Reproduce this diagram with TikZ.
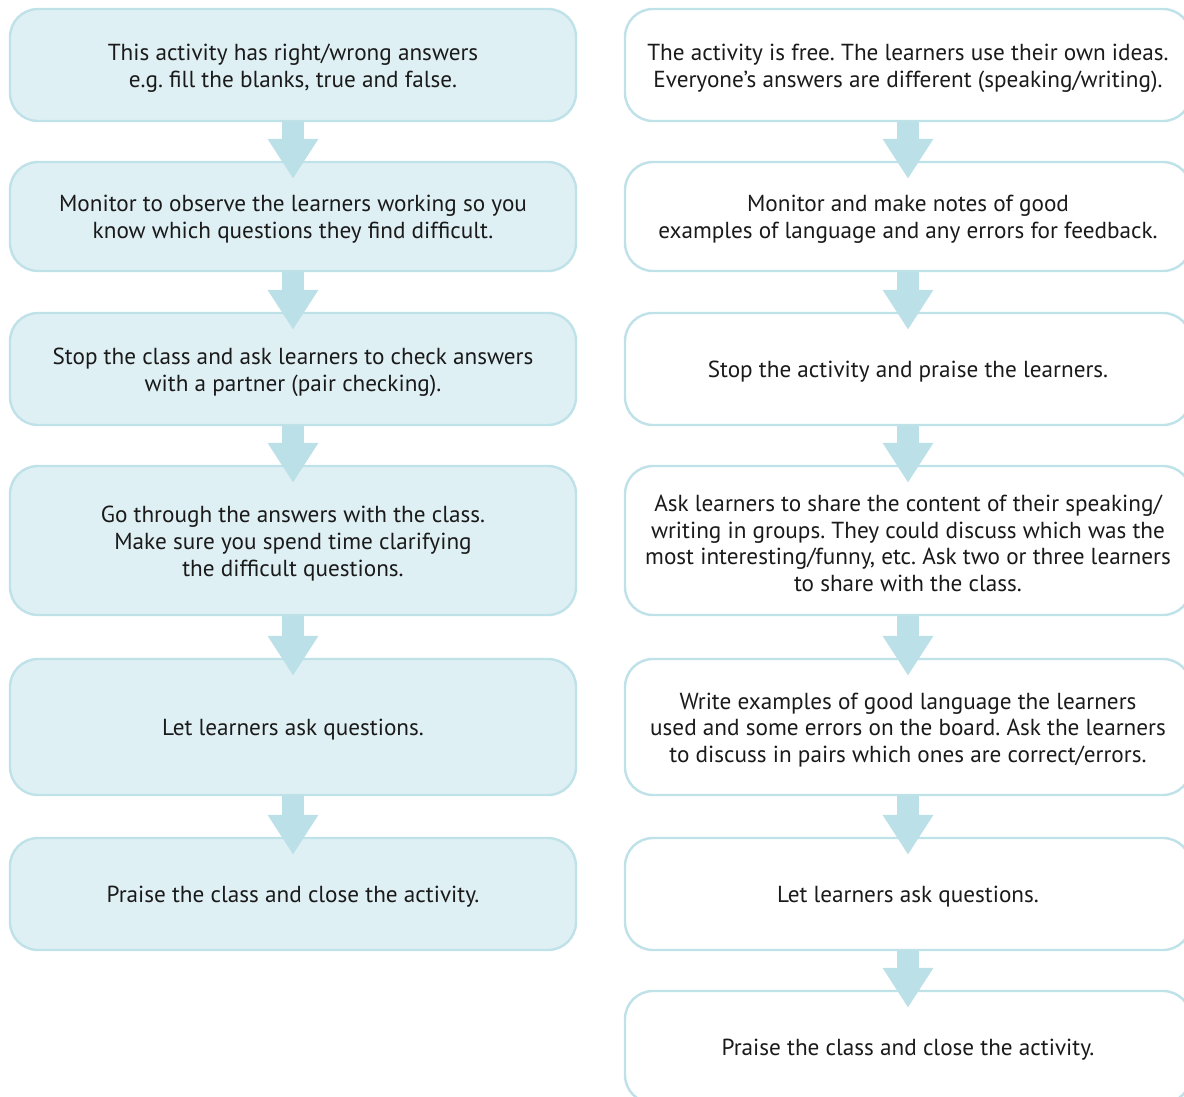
\documentclass[tikz,border=0pt]{standalone}
\usepackage{fontspec}
\setmainfont{PT Sans}
\usetikzlibrary{arrows.meta,calc}
\definecolor{boxline}{HTML}{BFE1E8}
\definecolor{boxfill}{HTML}{DFF0F5}
\definecolor{arrowcol}{HTML}{BCE0E8}
\definecolor{txt}{HTML}{1A1A1A}
\begin{document}
\frenchspacing
\begin{tikzpicture}[x=1pt,y=-1pt,
  stepbox/.style={draw=boxline, line width=2.4pt, rounded corners=28pt,
    minimum width=566pt, inner sep=0pt},
  leftbox/.style={stepbox, fill=boxfill},
  rightbox/.style={stepbox, fill=white},
  steptext/.style={inner sep=0pt, align=center, text=txt,
    font=\fontsize{23.2}{26.7}\selectfont},
  flow/.style={draw=arrowcol, line width=22pt,
    -{Triangle[width=48pt,length=40pt]}}
]
\useasboundingbox (0,0) rectangle (1184,1097);
\clip (0,0) rectangle (1184,1097);
\fill[white] (0,0) rectangle (1184,1097);

% left column
\node[leftbox, minimum height=112pt] (l1) at (293,65) {};
\node[leftbox, minimum height=109pt] (l2) at (293,216.5) {};
\node[leftbox, minimum height=112pt] (l3) at (293,369) {};
\node[leftbox, minimum height=149pt] (l4) at (293,540.5) {};
\node[leftbox, minimum height=136pt] (l5) at (293,727) {};
\node[leftbox, minimum height=112pt] (l6) at (293,894) {};

% right column
\node[rightbox, minimum height=112pt] (r1) at (908,65) {};
\node[rightbox, minimum height=109pt] (r2) at (908,216.5) {};
\node[rightbox, minimum height=112pt] (r3) at (908,369) {};
\node[rightbox, minimum height=149pt] (r4) at (908,540.5) {};
\node[rightbox, minimum height=136pt] (r5) at (908,727) {};
\node[rightbox, minimum height=112pt] (r6) at (908,894) {};
\node[rightbox, minimum height=112pt] (r7) at (908,1047) {};

% texts
\node[steptext] (l1t) at ([yshift=-3pt]l1.center) {This activity has right/wrong answers\\e.g. fill the blanks, true and false.};
\node[steptext] (l2t) at ([yshift=-3pt]l2.center) {Monitor to observe the learners working so you\\know which questions they find difficult.};
\node[steptext] (l3t) at ([yshift=-3pt]l3.center) {Stop the class and ask learners to check answers\\with a partner (pair checking).};
\node[steptext] (l4t) at ([yshift=-3pt]l4.center) {Go through the answers with the class.\\Make sure you spend time clarifying\\the difficult questions.};
\node[steptext] (l5t) at ([yshift=-3pt]l5.center) {Let learners ask questions.};
\node[steptext] (l6t) at ([yshift=-3pt]l6.center) {Praise the class and close the activity.};
\node[steptext] (r1t) at ([yshift=-3pt]r1.center) {The activity is free. The learners use their own ideas.\\Everyone’s answers are different (speaking/writing).};
\node[steptext] (r2t) at ([yshift=-3pt]r2.center) {Monitor and make notes of good\\examples of language and any errors for feedback.};
\node[steptext] (r3t) at ([yshift=-3pt]r3.center) {Stop the activity and praise the learners.};
\node[steptext] (r4t) at ([yshift=-3pt]r4.center) {Ask learners to share the content of their speaking/\\writing in groups. They could discuss which was the\\most interesting/funny, etc. Ask two or three learners\\to share with the class.};
\node[steptext] (r5t) at ([yshift=-3pt]r5.center) {Write examples of good language the learners\\used and some errors on the board. Ask the learners\\to discuss in pairs which ones are correct/errors.};
\node[steptext] (r6t) at ([yshift=-3pt]r6.center) {Let learners ask questions.};
\node[steptext] (r7t) at ([yshift=-3pt]r7.center) {Praise the class and close the activity.};

% arrows
\foreach \a/\b in {l1/l2,l2/l3,l3/l4,l4/l5,l5/l6,r1/r2,r2/r3,r3/r4,r4/r5,r5/r6,r6/r7}
  \draw[flow] (\a.south) -- ($(\b.north)+(0,-18pt)$);
\end{tikzpicture}
\end{document}
